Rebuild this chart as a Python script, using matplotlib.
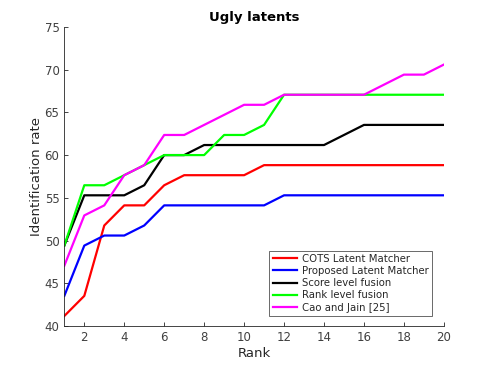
import numpy as np
import matplotlib.pyplot as plt

# identification rate (%) = hits out of 85 latents
n_latents = 85
rank = np.arange(1, 21)
cots = [35, 37, 44, 46, 46, 48, 49, 49, 49, 49, 50, 50, 50, 50, 50, 50, 50, 50, 50, 50]
proposed = [37, 42, 43, 43, 44, 46, 46, 46, 46, 46, 46, 47, 47, 47, 47, 47, 47, 47, 47, 47]
score_fusion = [42, 47, 47, 47, 48, 51, 51, 52, 52, 52, 52, 52, 52, 52, 53, 54, 54, 54, 54, 54]
rank_fusion = [42, 48, 48, 49, 50, 51, 51, 51, 53, 53, 54, 57, 57, 57, 57, 57, 57, 57, 57, 57]
cao_jain = [40, 45, 46, 49, 50, 53, 53, 54, 55, 56, 56, 57, 57, 57, 57, 57, 58, 59, 59, 60]

labels = ["COTS Latent Matcher", "Proposed Latent Matcher", "Score level fusion",
          "Rank level fusion", "Cao and Jain [25]"]
colors = ["#ff0000", "#0000ff", "#000000", "#00ff00", "#ff00ff"]
series = [cots, proposed, score_fusion, rank_fusion, cao_jain]

plt.rcParams['font.family'] = ['DejaVu Sans']
fig = plt.figure(figsize=(4.91, 3.68), dpi=100)
ax = fig.add_axes([0.131, 0.114, 0.773, 0.813])

for vals, lab, col in zip(series, labels, colors):
    ax.plot(rank, np.array(vals) / n_latents * 100, color=col, lw=1.6, label=lab)

ax.set_xlim(1, 20)
ax.set_ylim(40, 75)
ax.set_xticks(np.arange(2, 21, 2))
ax.set_yticks(np.arange(40, 76, 5))
ax.tick_params(direction="in", length=3, labelsize=8.5, colors="#262626",
               labelcolor="#404040", width=0.6)
for s in ["top", "right"]:
    ax.spines[s].set_visible(False)
for s in ["left", "bottom"]:
    ax.spines[s].set_color("#262626")
    ax.spines[s].set_linewidth(0.6)

ax.set_xlabel("Rank", fontsize=9.5, color="#262626", labelpad=2)
ax.set_ylabel("Identification rate", fontsize=9.5, color="#262626", labelpad=1)
ax.set_title("Ugly latents", fontsize=9.5, fontweight="bold", pad=4)

leg = ax.legend(loc="lower right", bbox_to_anchor=(0.968, 0.035), fontsize=7.3,
                frameon=True, fancybox=False, handlelength=2.4, borderpad=0.3,
                labelspacing=0.22, handletextpad=0.5, borderaxespad=0)
leg.get_frame().set_edgecolor("#262626")
leg.get_frame().set_linewidth(0.6)
for t in leg.get_texts():
    t.set_color("#262626")

plt.savefig("out.png", dpi=100)
